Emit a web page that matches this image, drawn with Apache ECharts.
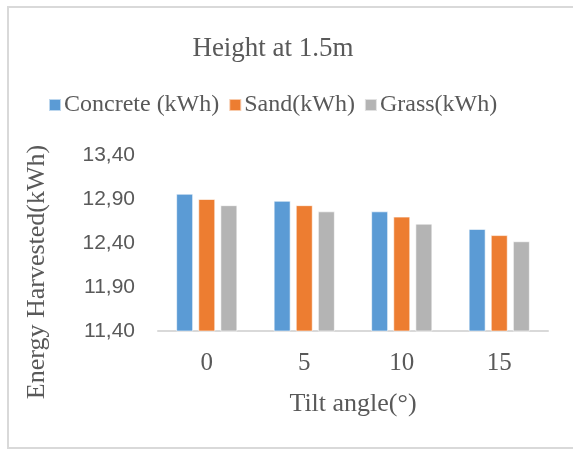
<!DOCTYPE html>
<html>
<head>
<meta charset="utf-8">
<script src="https://cdn.jsdelivr.net/npm/echarts@6/dist/echarts.min.js"></script>
<style>html,body{margin:0;padding:0;background:#fff;}#c{width:573px;height:450px;}</style>
</head>
<body>
<div id="c"></div>
<script>
const categories = ['0', '5', '10', '15'];
const concrete = [12.96, 12.88, 12.76, 12.56];
const sand = [12.90, 12.83, 12.70, 12.49];
const grass = [12.83, 12.76, 12.62, 12.42];
const seriesNames = ['Concrete (kWh)', 'Sand(kWh)', 'Grass(kWh)'];
const yTicks = [11.40, 11.90, 12.40, 12.90, 13.40];

const serif = 'Liberation Serif';
const textColor = '#595959';
const chart = echarts.init(document.getElementById('c'), null, {renderer: 'canvas'});
const colors = ['#5B9BD5', '#ED7D31', '#B4B4B4'];
const data = [concrete, sand, grass];

chart.setOption({
  animation: false,
  backgroundColor: '#fff',
  graphic: [{
    type: 'rect', shape: {x: 8, y: 7, width: 575, height: 441},
    style: {fill: 'none', stroke: '#d9d9d9', lineWidth: 2}, z: -10
  }],
  title: {
    text: 'Height at 1.5m', left: 268, top: 30, textAlign: 'center',
    textStyle: {fontFamily: serif, fontSize: 27, fontWeight: 'normal', color: textColor}
  },
  legend: {
    data: seriesNames, left: 43, top: 88, itemWidth: 12, itemHeight: 12, itemGap: 9,
    icon: 'rect',
    textStyle: {fontFamily: serif, fontSize: 24, color: textColor, padding: [0, 0, 0, -2]}
  },
  grid: {left: 158, right: 25, top: 155, bottom: 119},
  xAxis: {
    type: 'category', data: categories,
    name: 'Tilt angle(°)', nameLocation: 'middle', nameGap: 60,
    nameTextStyle: {fontFamily: serif, fontSize: 26, color: textColor},
    axisLine: {lineStyle: {color: '#d9d9d9', width: 2}},
    axisTick: {show: false},
    axisLabel: {fontFamily: serif, fontSize: 25, color: textColor, margin: 20}
  },
  yAxis: {
    type: 'value', min: yTicks[0], max: yTicks[yTicks.length - 1], interval: 0.5,
    name: 'Energy Harvested(kWh)', nameLocation: 'middle', nameGap: 108, nameRotate: 90,
    nameTextStyle: {fontFamily: serif, fontSize: 26, color: textColor, padding: [0, 58, 0, 0]},
    axisLine: {show: false}, axisTick: {show: false}, splitLine: {show: false},
    axisLabel: {
      fontFamily: 'Liberation Sans', fontSize: 21, color: textColor, margin: 23,
      formatter: v => v.toFixed(2).replace('.', ',')
    }
  },
  series: data.map((d, i) => ({
    name: seriesNames[i], type: 'bar', data: d, barWidth: 17, barGap: '30%',
    itemStyle: {color: colors[i], borderColor: 'rgba(255,255,255,0.6)', borderWidth: 1}
  }))
});
</script>
</body>
</html>
